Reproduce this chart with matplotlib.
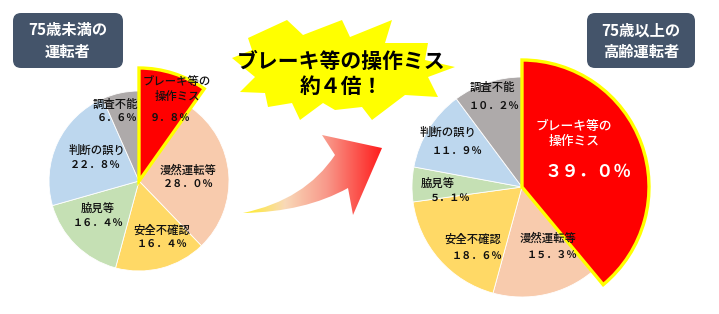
import numpy as np
import matplotlib
matplotlib.use('Agg')
import matplotlib.pyplot as plt
from matplotlib.patches import FancyBboxPatch, Polygon, PathPatch
from matplotlib.path import Path
from matplotlib.colors import LinearSegmentedColormap

plt.rcParams['font.family'] = ['Noto Sans CJK JP', 'DejaVu Sans']

# data
categories = ['ブレーキ等の\n操作ミス', '漫然運転等', '安全不確認', '脇見等', '判断の誤り', '調査不能']
under75 = [9.8, 28.0, 16.4, 16.4, 22.8, 6.6]
over75 = [39.0, 15.3, 18.6, 5.1, 11.9, 10.2]
colors = ['#FF0000', '#F8CBAD', '#FFD966', '#C5E0B4', '#BDD7EE', '#AEAAAA']
titles = ['75歳未満の\n運転者', '75歳以上の\n高齢運転者']
headline = 'ブレーキ等の操作ミス\n約４倍！'

W, H = 719, 314
fig = plt.figure(figsize=(W / 100, H / 100), dpi=100)
ax = fig.add_axes([0, 0, 1, 1])

FW = str.maketrans('0123456789.%', '０１２３４５６７８９．％')


def fw(v):
    return f'{v:.1f}%'.translate(FW)


def draw_pie(values, cx, cy, r, r_big, name_xy, pct_xy, hi_color, hi_name_size, hi_pct_size):
    wedges, _ = ax.pie(values, colors=colors, startangle=90, counterclock=False,
                       center=(cx, H - cy), radius=r, frame=True,
                       wedgeprops=dict(edgecolor='white', linewidth=0.6))
    # pull out the first slice: bigger radius, yellow outline
    w = wedges[0]
    w.set_radius(r_big)
    w.set_edgecolor('#FFFF00')
    w.set_linewidth(2.4)
    w.set_zorder(5)
    for i, (name, v) in enumerate(zip(categories, values)):
        c = hi_color if i == 0 else '#111111'
        ax.text(name_xy[i][0], H - name_xy[i][1], name, ha='center', va='center',
                fontsize=hi_name_size if i == 0 else 8.2, fontweight='medium',
                color=c, linespacing=1.15, zorder=6)
        ax.text(pct_xy[i][0], H - pct_xy[i][1], fw(v), ha='center', va='center',
                fontsize=hi_pct_size if i == 0 else 7.3, fontweight='bold',
                color=c, zorder=6)


# left pie
draw_pie(under75, 139, 181, 90, 113,
         [(177, 89), (188, 170), (162, 230), (98, 208), (97, 150), (115, 104)],
         [(170, 118), (188, 184), (162, 244), (98, 223), (95, 165), (117, 118)],
         '#111111', 8.2, 7.3)

# right pie
draw_pie(over75, 522, 187, 110, 127,
         [(574, 134), (548, 238), (473, 239), (438, 183), (448, 132), (492, 87)],
         [(588, 172), (552, 255), (477, 256), (450, 198), (457, 151), (494, 106)],
         'white', 9.2, 12.5)

# title boxes
for (x0, x1), t in zip([(13, 123), (587, 695)], titles):
    box = FancyBboxPatch((x0, H - 68), x1 - x0, 55,
                         boxstyle='round,pad=0,rounding_size=8',
                         fc='#44546A', ec='none', zorder=7)
    ax.add_patch(box)
    ax.text((x0 + x1) / 2, H - 41, t, ha='center', va='center', color='white',
            fontsize=11, fontweight='bold', linespacing=1.45, zorder=8)

# starburst
burst = [(248, 38), (287, 20), (303, 35), (342, 20), (350, 37), (392, 20),
         (385, 43), (428, 43), (425, 60), (455, 67), (428, 77), (438, 97),
         (405, 95), (372, 120), (362, 107), (335, 110), (323, 103), (300, 120),
         (292, 103), (268, 107), (265, 93), (240, 92), (255, 77), (232, 58),
         (252, 50)]
ax.add_patch(Polygon([(x, H - y) for x, y in burst], closed=True,
                     fc='#FFFF00', ec='none', zorder=3))
ax.text(341, H - 74, headline, ha='center', va='center', fontsize=15,
        fontweight='bold', color='black', linespacing=1.2, zorder=4)

# gradient arrow
pts = [(243, 213), (305, 200), (335, 155), (322, 135), (382, 148),
       (353, 215), (348, 188), (305, 212), (243, 213), (243, 213)]
codes = [Path.MOVETO, Path.CURVE3, Path.CURVE3, Path.LINETO, Path.LINETO,
         Path.LINETO, Path.LINETO, Path.CURVE3, Path.CURVE3, Path.CLOSEPOLY]
arrow = PathPatch(Path([(x, H - y) for x, y in pts], codes), fc='none', ec='none')
ax.add_patch(arrow)
cmap = LinearSegmentedColormap.from_list(
    'arr', [(0, '#FFEE22'), (0.3, '#F9D9B8'), (0.6, '#F8988A'), (1, '#FF1A1A')])
grad = np.linspace(0, 1, 256).reshape(1, -1)
im = ax.imshow(grad, cmap=cmap, extent=(243, 383, H - 216, H - 134),
               aspect='auto', zorder=2)
im.set_clip_path(arrow)

ax.set_xlim(0, W)
ax.set_ylim(0, H)
ax.set_aspect('auto')
ax.axis('off')

fig.savefig('out.png', dpi=100, facecolor='white')
